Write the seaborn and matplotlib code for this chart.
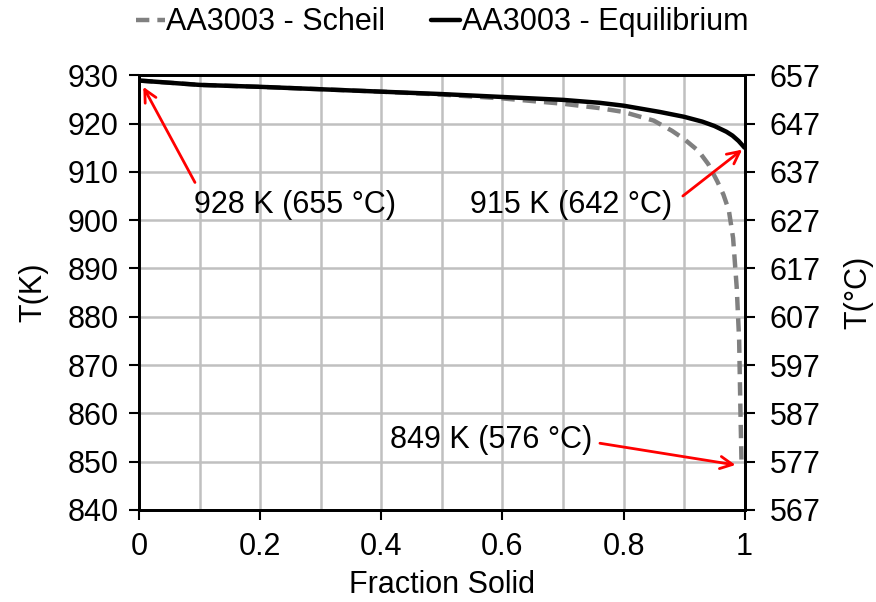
import matplotlib
matplotlib.use("Agg")
import matplotlib.pyplot as plt
import seaborn as sns
import numpy as np
import pandas as pd

eq_x = [0, 0.1, 0.2, 0.3, 0.4, 0.5, 0.6, 0.7, 0.76, 0.8, 0.86, 0.9, 0.93, 0.95, 0.97, 0.98, 0.99, 1.0]
eq_T = [928.9, 928.0, 927.6, 927.1, 926.6, 926.1, 925.5, 924.9, 924.3, 923.7, 922.4, 921.4, 920.4,
        919.5, 918.3, 917.5, 916.4, 915.0]

sch_x = [0, 0.1, 0.2, 0.3, 0.4, 0.5, 0.6, 0.7, 0.76, 0.8, 0.85, 0.88, 0.9, 0.924, 0.94, 0.955, 0.965,
         0.974, 0.981, 0.987, 0.991, 0.993, 0.995]
sch_T = [928.9, 928.0, 927.6, 927.1, 926.6, 926.0, 925.2, 924.1, 923.2, 922.4, 920.6, 918.5, 916.8,
         914.3, 911.6, 908.0, 905.3, 902.0, 896.3, 886.0, 875.1, 861.3, 849.2]

k_ticks = [840, 850, 860, 870, 880, 890, 900, 910, 920, 930]
c_ticks = [567, 577, 587, 597, 607, 617, 627, 637, 647, 657]
x_ticks = [0, 0.2, 0.4, 0.6, 0.8, 1.0]
x_tick_labels = ["0", "0.2", "0.4", "0.6", "0.8", "1"]

sns.set_theme(style="white")
plt.rcParams['font.family'] = ['Liberation Sans', 'DejaVu Sans']
plt.rcParams['text.color'] = 'black'
plt.rcParams['axes.labelcolor'] = 'black'
plt.rcParams['xtick.color'] = 'black'
plt.rcParams['ytick.color'] = 'black'
FS = 22

fig = plt.figure(figsize=(8.76, 6.02), dpi=100)
ax = fig.add_axes([0.159, 0.153, 0.691, 0.722])

df_s = pd.DataFrame({"x": sch_x, "T": sch_T})
df_e = pd.DataFrame({"x": eq_x, "T": eq_T})
sns.lineplot(data=df_s, x="x", y="T", ax=ax, color="#808080", lw=3.2,
             linestyle=(0, (3.0, 1.8)), label="AA3003 - Scheil", sort=False)
sns.lineplot(data=df_e, x="x", y="T", ax=ax, color="black", lw=3.2,
             label="AA3003 - Equilibrium", sort=False)

ax.set_xlim(0, 1)
ax.set_ylim(840, 930)
ax.set_xticks(x_ticks)
ax.set_xticklabels(x_tick_labels)
ax.set_yticks(k_ticks)
ax.set_xticks(np.arange(0, 1.01, 0.1), minor=True)
ax.grid(True, which="both", axis="x", color="#c0c0c0", lw=1.8)
ax.grid(True, which="major", axis="y", color="#c0c0c0", lw=1.8)
ax.tick_params(axis="y", which="major", labelsize=FS, direction="out", length=7, width=1.5,
               left=True, colors="black", pad=8)
ax.tick_params(axis="x", which="major", labelsize=FS, direction="out", length=7, width=1.5,
               bottom=True, colors="black", pad=9)
ax.tick_params(axis="x", which="minor", length=0)
for s in ax.spines.values():
    s.set_color("black")
    s.set_linewidth(2)
ax.set_xlabel("Fraction Solid", fontsize=FS, labelpad=6, color="black")
ax.set_ylabel("T(K)", fontsize=FS, labelpad=14, color="black")

ax2 = ax.twinx()
ax2.set_ylim(567, 657)
ax2.set_yticks(c_ticks)
ax2.tick_params(axis="y", labelsize=FS, direction="out", length=7, width=1.5, right=True,
                colors="black", pad=11)
ax2.set_ylabel("T(°C)", fontsize=FS, labelpad=16, color="black")
ax2.grid(False)
for s in ax2.spines.values():
    s.set_color("black")
    s.set_linewidth(2)

leg = ax.legend(loc="center", bbox_to_anchor=(0.5, 1.122), ncol=2, frameon=False,
                fontsize=FS, handlelength=0.95, handletextpad=0.05, columnspacing=1.5, borderaxespad=0,
                labelcolor="black")

arrow = dict(arrowstyle="->", color="red", lw=2, mutation_scale=22, shrinkA=0, shrinkB=0)
ax.text(0.257, 903.1, "928 K (655 °C)", fontsize=FS, ha="center", va="center", color="black")
ax.annotate("", xy=(0.0066, 927.6), xytext=(0.092, 907.8), arrowprops=arrow)
ax.text(0.713, 903.1, "915 K (642 °C)", fontsize=FS, ha="center", va="center", color="black")
ax.annotate("", xy=(0.996, 914.6), xytext=(0.898, 905.0), arrowprops=arrow)
ax.text(0.581, 854.4, "849 K (576 °C)", fontsize=FS, ha="center", va="center", color="black")
ax.annotate("", xy=(0.985, 849.3), xytext=(0.761, 853.8), arrowprops=arrow)

fig.savefig("out.png", dpi=100)
